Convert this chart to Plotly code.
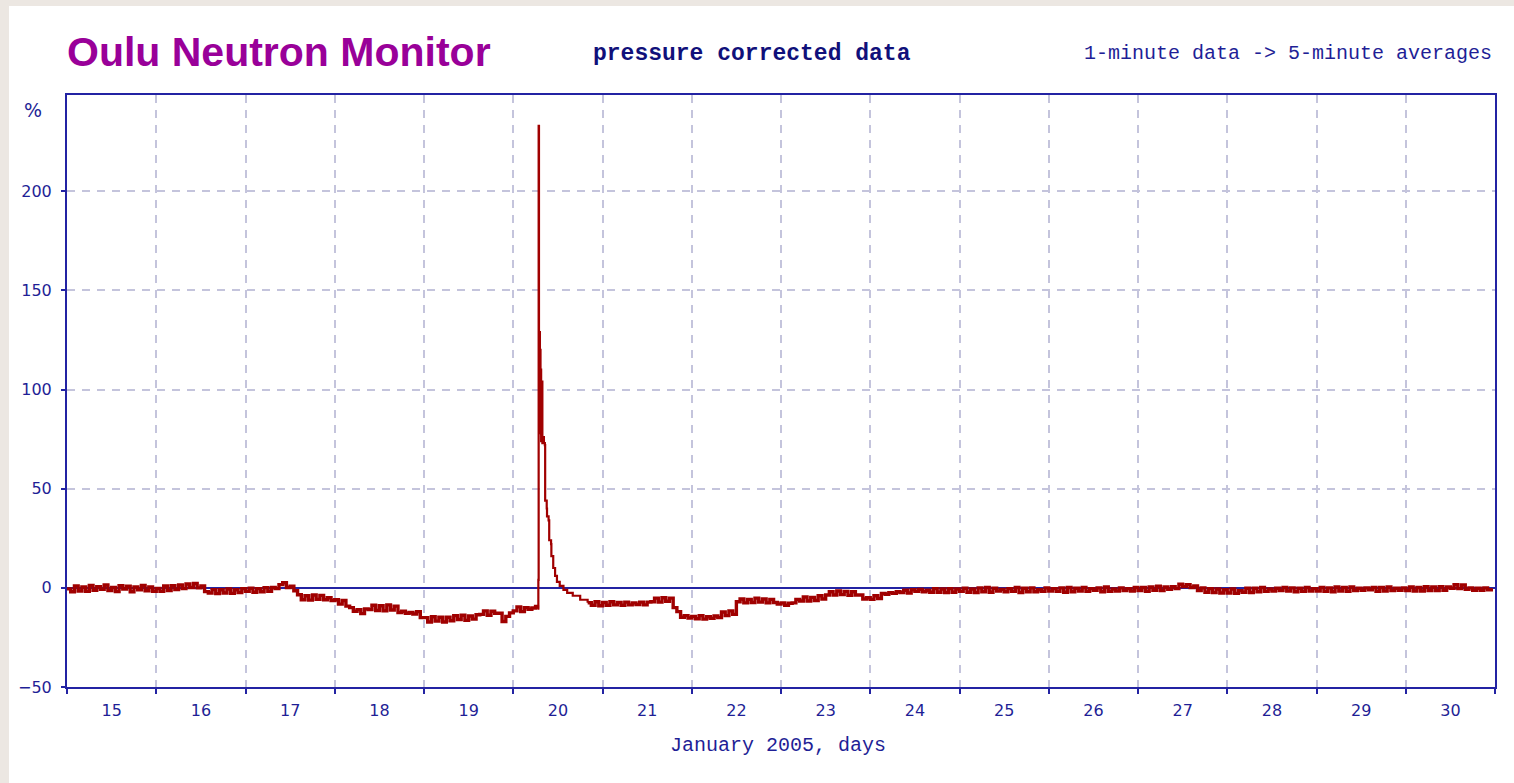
import plotly.graph_objects as go

# ---------------- data ----------------
start_day = 15  # Jan 15 00:00 UT
# hourly values (%), 24 per day, Jan 15 .. Jan 30 ; None = covered by spike detail
day15 = [-0.5, -2.0, 1.0, -1.6, 0.4, -1.8, 1.2, -1.2, 0.6, -0.8, 1.4, -1.4, 0.2, -1.9, 1.1, -0.6, 0.8, -2.0, 0.5, -1.0, 1.2, -1.5, 0.4, -1.7]
day16 = [-0.3, -1.8, 0.9, -1.4, 1.1, -0.9, 1.4, -0.4, 1.9, 0.2, 2.2, 0.0, 0.9, -1.9, -2.6, -0.9, -2.9, -1.0, -2.6, -0.6, -2.8, -1.0, -2.4, -0.4]
day17 = [-1.8, -0.2, -2.2, -0.4, -2.0, 0.1, -1.7, 0.2, -0.4, 1.6, 2.6, 0.2, 0.8, -1.5, -3.5, -6.0, -4.0, -6.2, -3.6, -5.8, -3.8, -6.0, -5.0, -6.4]
day18 = [-6.0, -8.2, -6.4, -9.2, -10.0, -11.8, -11.0, -13.0, -10.6, -11.0, -8.8, -11.4, -9.0, -11.6, -8.6, -11.2, -9.2, -12.4, -11.8, -12.8, -12.4, -13.2, -12.0, -15.0]
day19 = [-15.0, -17.2, -14.6, -16.8, -14.8, -17.2, -14.8, -16.6, -14.0, -16.0, -13.8, -16.4, -14.2, -15.8, -13.6, -13.4, -11.6, -13.8, -11.8, -12.8, -12.8, -17.0, -14.4, -12.6]
day20 = [-11.6, -9.6, -12.0, -10.0, -10.8, -10.2, -9.4] + [None] * 14 + [-8.8, -7.0, -9.0]
day21 = [-7.4, -8.8, -7.0, -8.6, -7.4, -8.8, -7.2, -8.6, -7.6, -8.4, -7.2, -8.6, -7.2, -7.0, -5.2, -7.2, -5.0, -6.8, -5.2, -10.0, -12.0, -14.8, -14.0, -15.2]
day22 = [-14.4, -15.6, -14.0, -15.8, -14.6, -15.4, -14.2, -15.0, -12.2, -14.0, -11.6, -13.4, -7.0, -5.6, -7.6, -5.8, -7.4, -5.2, -7.2, -5.6, -7.6, -5.8, -7.4, -8.2]
day23 = [-7.6, -8.8, -7.8, -7.6, -5.8, -6.6, -4.6, -6.6, -4.8, -6.4, -4.0, -5.6, -3.6, -2.0, -3.6, -1.6, -3.4, -1.8, -3.8, -2.0, -3.6, -3.6, -5.6, -5.0]
day24 = [-5.8, -4.0, -5.4, -2.8, -3.2, -2.4, -2.8, -2.0, -2.4, -1.2, -2.6, -1.0, -1.8, -0.8, -2.0, -1.2, -2.2, -0.4, -2.2, -0.6, -2.4, -0.4, -2.2, -0.6]
day25 = [-1.8, -0.2, -2.2, -0.6, -2.4, 0.0, -2.0, 0.2, -2.2, -0.2, -1.6, -0.8, -2.0, -0.4, -1.8, 0.2, -2.4, -0.2, -2.0, 0.0, -2.0, -1.0, -1.8, 0.0]
day26 = [-1.6, -0.4, -1.8, 0.0, -2.2, 0.2, -2.0, -0.2, -1.6, 0.2, -1.8, -0.4, -1.2, 0.0, -2.0, 0.4, -1.8, -0.6, -1.6, 0.0, -1.4, -0.4, -1.6, 0.2]
day27 = [-1.4, 0.2, -1.8, 0.4, -1.2, 0.8, -1.4, 0.4, -0.8, 0.6, -0.4, 1.8, 0.6, 1.6, 0.2, 1.0, -1.4, 0.0, -2.2, -0.4, -2.4, -0.6, -2.6, -1.0]
day28 = [-2.6, -0.6, -2.8, -1.4, -2.2, -0.2, -2.4, -0.2, -2.0, 0.2, -1.8, -0.6, -1.6, -0.2, -1.4, 0.2, -1.6, 0.0, -2.0, -0.2, -1.8, 0.2, -1.6, -0.4]
day29 = [-1.6, 0.2, -1.8, 0.0, -2.0, 0.4, -1.6, 0.2, -1.8, 0.4, -1.4, -0.2, -1.2, 0.0, -1.0, 0.2, -1.8, 0.2, -1.6, 0.4, -1.4, -0.2, -1.2, 0.0]
day30 = [-1.4, 0.4, -1.6, 0.2, -1.6, 0.6, -1.4, 0.4, -1.4, 0.6, -1.2, 0.4, -0.2, 1.6, -0.4, 1.4, -0.8, 0.0, -1.2, -0.2, -1.2, 0.0, -1.0, -0.2]

# GLE of 20 Jan 2005: finer detail, hours since Jan 15 00:00
spike_hours = [126.50, 126.75, 126.83, 126.92, 127.00, 127.08, 127.17, 127.25, 127.33, 127.42,
               127.50, 127.67, 127.83, 128.00, 128.25, 128.50, 128.58, 129.00, 129.08, 129.50,
               129.67, 130.17, 130.25, 130.75, 131.25, 131.75, 132.50, 133.50, 134.50, 136.00,
               138.00, 140.00]
spike_values = [-10.5, 4.0, 233.0, 129.0, 100.0, 129.0, 90.0, 120.0, 78.0, 110.0,
                74.0, 104.0, 73.0, 76.0, 73.0, 72.0, 44.0, 40.0, 36.0, 34.0,
                24.0, 22.0, 16.0, 10.0, 6.0, 3.0, 1.0, -1.0, -2.5, -4.0,
                -6.0, -7.5]

days = [day15, day16, day17, day18, day19, day20, day21, day22,
        day23, day24, day25, day26, day27, day28, day29, day30]

x_tick_labels = [str(d) for d in range(15, 31)]
y_tick_values = [-50, 0, 50, 100, 150, 200]

# ---------------- assemble series ----------------
base = []
for di, vals in enumerate(days):
    for hi, v in enumerate(vals):
        if v is not None:
            base.append((di * 24 + hi, v))
spike = list(zip(spike_hours, spike_values))
h0, h1 = spike_hours[0], spike_hours[-1]
before = [p for p in base if p[0] < h0] + [spike[0]]
after = [spike[-1]] + [p for p in base if p[0] > h1]


def to_xy(seq):
    return [start_day + h / 24.0 for h, _ in seq], [v for _, v in seq]


# ---------------- figure ----------------
W, H = 1514, 783
L, R, T, B = 67, 1495, 95, 687
pw, ph = R - L, B - T


def px(xp):
    return (xp - L) / pw


def py(yp):
    return (B - yp) / ph


AXIS = "#2323a3"
TXT = "#1f1f96"
GRID = "#c4c4dc"
BEIGE = "#ece7e2"
RED = "#a00000"

fig = go.Figure()
for seq, w in ((before, 3.4), (spike, 2.2), (after, 3.4)):
    sx, sy = to_xy(seq)
    fig.add_trace(go.Scatter(x=sx, y=sy, mode="lines",
                             line=dict(color=RED, width=w, shape="hv"),
                             hoverinfo="skip", showlegend=False))

fig.update_layout(
    width=W, height=H,
    margin=dict(l=L, r=W - R, t=T, b=H - B, pad=0),
    paper_bgcolor="#ffffff", plot_bgcolor="#ffffff",
    showlegend=False,
    xaxis=dict(
        range=[15, 31], tickmode="array",
        tickvals=[d + 0.5 for d in range(15, 31)], ticktext=x_tick_labels,
        ticks="", showgrid=False, zeroline=False,
        showline=True, linecolor=AXIS, linewidth=2, mirror=True,
        tickfont=dict(family="DejaVu Sans", size=16, color=TXT),
        ticklabelstandoff=8,
        minor=dict(tickmode="array", tickvals=list(range(15, 32)), ticks="outside",
                   ticklen=5, tickwidth=2, tickcolor=AXIS,
                   showgrid=True, gridcolor=GRID, gridwidth=1.5, griddash="8px,7px"),
    ),
    yaxis=dict(
        range=[-50, 248.5], tickmode="array", tickvals=y_tick_values,
        ticks="outside", ticklen=4, tickwidth=2, tickcolor=AXIS,
        showgrid=True, gridcolor=GRID, gridwidth=1.5, griddash="8px,7px",
        zeroline=True, zerolinecolor=AXIS, zerolinewidth=2,
        showline=True, linecolor=AXIS, linewidth=2, mirror=True,
        tickfont=dict(family="DejaVu Sans", size=16, color=TXT),
        ticklabelstandoff=6,
    ),
)

# beige page margins around white panel
fig.add_shape(type="rect", xref="paper", yref="paper", x0=px(0), x1=px(W), y0=py(6), y1=py(0),
              fillcolor=BEIGE, line_width=0, layer="below")
fig.add_shape(type="rect", xref="paper", yref="paper", x0=px(0), x1=px(9), y0=py(H), y1=py(0),
              fillcolor=BEIGE, line_width=0, layer="below")

fig.add_annotation(text="<b>Oulu Neutron Monitor</b>", xref="paper", yref="paper",
                   x=px(65), y=py(52), xanchor="left", yanchor="middle", showarrow=False,
                   font=dict(family="Liberation Sans", size=41, color="#990099"))
fig.add_annotation(text="<b>pressure corrected data</b>", xref="paper", yref="paper",
                   x=px(752), y=py(54), xanchor="center", yanchor="middle", showarrow=False,
                   font=dict(family="Liberation Mono", size=23, color="#10107a"))
fig.add_annotation(text="1-minute data -&gt; 5-minute averages", xref="paper", yref="paper",
                   x=px(1494), y=py(54), xanchor="right", yanchor="middle", showarrow=False,
                   font=dict(family="Liberation Mono", size=20, color=TXT))
fig.add_annotation(text="%", xref="paper", yref="paper",
                   x=px(33), y=py(110), xanchor="center", yanchor="middle", showarrow=False,
                   font=dict(family="DejaVu Sans", size=19, color=TXT))
fig.add_annotation(text="January 2005, days", xref="paper", yref="paper",
                   x=px(778), y=py(745), xanchor="center", yanchor="middle", showarrow=False,
                   font=dict(family="Liberation Mono", size=20, color=TXT))

fig.write_html("out.html", config={"displayModeBar": False},
               post_script="document.body.style.margin='0';document.body.style.background='#ffffff';")
